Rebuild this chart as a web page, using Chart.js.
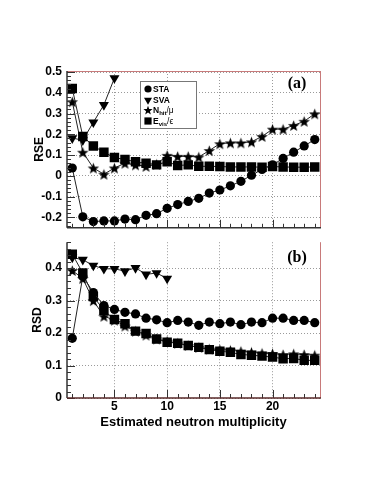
<!DOCTYPE html>
<html>
<head>
<meta charset="utf-8">
<script src="https://cdn.jsdelivr.net/npm/chart.js@4.4.0/dist/chart.umd.min.js"></script>
<style>
html, body { margin: 0; padding: 0; background: #fff; }
#wrap { position: relative; width: 382px; height: 494px; overflow: hidden; }
#c1 { position: absolute; left: 0; top: 0; }
#c2 { position: absolute; left: 0; top: 230px; }
#legend { position: absolute; left: 140px; top: 81px; width: 57px; height: 48px; box-sizing: border-box;
  border: 1px solid #777; background: #fff; font: bold 8.5px "Liberation Sans", Arial, sans-serif; color: #000; }
#legend .row { position: absolute; left: 0; height: 10px; width: 55px; }
#legend canvas { position: absolute; left: 1px; top: 0; }
#legend span { position: absolute; left: 12px; top: 0; line-height: 10px; white-space: nowrap; }
#legend sub { font-size: 6px; vertical-align: -2px; line-height: 0; }
#legend .thin { font-weight: normal; }
</style>
</head>
<body>
<div id="wrap">
  <canvas id="c1" width="382" height="240"></canvas>
  <canvas id="c2" width="382" height="264"></canvas>
  <div id="legend">
    <div class="row" style="top:2px"><canvas width="12" height="10" data-m="circle"></canvas><span>STA</span></div>
    <div class="row" style="top:13px"><canvas width="12" height="10" data-m="down"></canvas><span>SVA</span></div>
    <div class="row" style="top:23px"><canvas width="12" height="10" data-m="star"></canvas><span>N<sub>hit</sub><span class="thin" style="position:static">/μ</span></span></div>
    <div class="row" style="top:34px"><canvas width="12" height="10" data-m="square"></canvas><span>E<sub>vis</sub><span class="thin" style="position:static">/ϵ</span></span></div>
  </div>
</div>
<script>
// estimated neutron multiplicity
const multiplicity = [1, 2, 3, 4, 5, 6, 7, 8, 9, 10, 11, 12, 13, 14, 15, 16, 17, 18, 19, 20, 21, 22, 23, 24];
const xMajorTicks = [5, 10, 15, 20];

// (a) RSE
const rseSTA = [0.038, -0.197, -0.220, -0.217, -0.217, -0.208, -0.211, -0.190, -0.182, -0.156, -0.138, -0.123,
  -0.108, -0.083, -0.068, -0.048, -0.026, 0.003, 0.031, 0.053, 0.084, 0.114, 0.144, 0.175];
const rseSVA = [0.182, 0.172, 0.258, 0.342, 0.471];
const rseNhit = [0.357, 0.114, 0.038, 0.008, 0.038, 0.061, 0.053, 0.046, 0.056, 0.099, 0.094, 0.094,
  0.091, 0.122, 0.155, 0.159, 0.159, 0.164, 0.190, 0.225, 0.225, 0.243, 0.263, 0.299];
const rseEvis = [0.421, 0.190, 0.144, 0.114, 0.088, 0.079, 0.068, 0.061, 0.053, 0.068, 0.050, 0.053,
  0.046, 0.046, 0.045, 0.043, 0.043, 0.043, 0.042, 0.045, 0.043, 0.042, 0.042, 0.043];
const rseTicks = [-0.2, -0.1, 0, 0.1, 0.2, 0.3, 0.4, 0.5];

// (b) RSD
const rsdSTA = [0.184, 0.375, 0.325, 0.285, 0.273, 0.264, 0.259, 0.246, 0.241, 0.232, 0.239, 0.234,
  0.224, 0.234, 0.229, 0.234, 0.226, 0.234, 0.232, 0.246, 0.246, 0.239, 0.239, 0.232];
const rsdSVA = [0.433, 0.426, 0.408, 0.398, 0.398, 0.391, 0.401, 0.381, 0.385, 0.368];
const rsdNhit = [0.393, 0.368, 0.300, 0.252, 0.240, 0.222, 0.206, 0.194, 0.182, 0.175, 0.169, 0.162,
  0.156, 0.151, 0.149, 0.147, 0.144, 0.141, 0.138, 0.137, 0.134, 0.136, 0.134, 0.132];
const rsdEvis = [0.443, 0.385, 0.313, 0.270, 0.242, 0.229, 0.206, 0.199, 0.182, 0.172, 0.169, 0.162,
  0.156, 0.149, 0.144, 0.141, 0.134, 0.132, 0.129, 0.126, 0.121, 0.122, 0.116, 0.116];
const rsdTicks = [0, 0.1, 0.2, 0.3, 0.4];

// filled star marker (Chart.js 'star' is not filled)
function drawMarker(g, m, x, y, s) {
  g.fillStyle = '#000';
  g.beginPath();
  if (m === 'circle') {
    g.arc(x, y, 4.5 * s, 0, Math.PI * 2);
  } else if (m === 'down') {
    const r = 5.8 * s;
    g.moveTo(x - r * 0.866, y - r * 0.5);
    g.lineTo(x + r * 0.866, y - r * 0.5);
    g.lineTo(x, y + r);
  } else if (m === 'square') {
    g.rect(x - 4.5 * s, y - 4.5 * s, 9 * s, 9 * s);
  } else {
    const R = 6 * s, r = R * 0.42;
    for (let i = 0; i < 10; i++) {
      const ang = -Math.PI / 2 + i * Math.PI / 5;
      const rad = i % 2 ? r : R;
      g.lineTo(x + rad * Math.cos(ang), y + 0.7 * s + rad * Math.sin(ang));
    }
  }
  g.closePath();
  g.fill();
}

const starImg = document.createElement('canvas');
starImg.width = 13; starImg.height = 13;
drawMarker(starImg.getContext('2d'), 'star', 6.5, 6.5, 1);

document.querySelectorAll('#legend canvas').forEach(function (c) {
  drawMarker(c.getContext('2d'), c.dataset.m, 6, 5, 0.8);
});

function pts(ys) {
  return ys.map(function (v, i) { return { x: multiplicity[i], y: v }; });
}

function makeSets(sta, sva, nhit, evis) {
  const line = { borderColor: '#222', borderWidth: 1, backgroundColor: '#000', pointBorderWidth: 0, tension: 0 };
  return [
    Object.assign({ label: 'STA', data: pts(sta), pointStyle: 'circle', pointRadius: 4.6, order: 1 }, line),
    Object.assign({ label: 'SVA', data: pts(sva), pointStyle: 'triangle', rotation: 180, pointRadius: 5.8, order: 4 }, line),
    Object.assign({ label: 'Nhit/mu', data: pts(nhit), pointStyle: starImg, order: 3 }, line),
    Object.assign({ label: 'Evis/eps', data: pts(evis), pointStyle: 'rect', pointRadius: 6.7, order: 2 }, line)
  ];
}

// frame, inward ticks, titles
function framePlugin(cfg) {
  return {
    id: 'frame',
    afterDraw: function (chart) {
      const ctx = chart.ctx, a = chart.chartArea, x = chart.scales.x, y = chart.scales.y;
      ctx.save();
      ctx.strokeStyle = '#333';
      ctx.lineWidth = 1;
      ctx.beginPath();
      for (let v = 1; v <= 24; v++) {
        const px = Math.round(x.getPixelForValue(v)) + 0.5;
        const len = v % 5 === 0 ? 8 : 4;
        ctx.moveTo(px, a.bottom);
        ctx.lineTo(px, a.bottom - len);
      }
      const k0 = Math.ceil(y.min / 0.02 - 1e-6), k1 = Math.floor(y.max / 0.02 + 1e-6);
      for (let k = k0; k <= k1; k++) {
        const py = Math.round(y.getPixelForValue(k * 0.02)) + 0.5;
        const len = k % 5 === 0 ? 8 : 4;
        ctx.moveTo(a.left, py);
        ctx.lineTo(a.left + len, py);
      }
      ctx.stroke();

      // frame lines
      ctx.lineWidth = 1;
      ctx.strokeStyle = '#c87a7a';
      ctx.beginPath();
      ctx.moveTo(a.right + 0.5, a.top);
      ctx.lineTo(a.right + 0.5, a.bottom);
      if (cfg.top) { ctx.moveTo(a.left, a.top + 0.5); ctx.lineTo(a.right, a.top + 0.5); }
      ctx.stroke();
      ctx.strokeStyle = '#333';
      ctx.lineWidth = 1.5;
      ctx.beginPath();
      ctx.moveTo(a.left, a.top);
      ctx.lineTo(a.left, a.bottom);
      ctx.stroke();
      ctx.strokeStyle = cfg.bottomColor;
      ctx.lineWidth = 1.5;
      ctx.beginPath();
      ctx.moveTo(a.left, a.bottom);
      ctx.lineTo(a.right + 1, a.bottom);
      ctx.stroke();

      // axis title
      ctx.fillStyle = '#000';
      ctx.font = 'bold 12px "Liberation Sans", Arial, sans-serif';
      ctx.textAlign = 'center';
      ctx.textBaseline = 'middle';
      ctx.save();
      ctx.translate(cfg.titleX, (a.top + a.bottom) / 2);
      ctx.rotate(-Math.PI / 2);
      ctx.fillText(cfg.yTitle, 0, 0);
      ctx.restore();

      // panel tag
      ctx.font = 'bold 16px "Liberation Serif", "Times New Roman", serif';
      ctx.fillText(cfg.tag, 297, a.top + cfg.tagDy);

      if (cfg.xTitle) {
        ctx.font = 'bold 13px "Liberation Sans", Arial, sans-serif';
        ctx.fillText(cfg.xTitle, (a.left + a.right) / 2, a.bottom + 24);
      }
      ctx.restore();
    }
  };
}

function makeOptions(yMin, yMax, yTicks, padTop, padBottom, xHeight, showX) {
  const font = { family: '"Liberation Sans", Arial, sans-serif', size: 12, weight: 'bold' };
  return {
    responsive: false,
    animation: false,
    events: [],
    layout: { padding: { left: 0, top: padTop, right: 62, bottom: padBottom } },
    plugins: { legend: { display: false }, tooltip: { enabled: false } },
    scales: {
      x: {
        type: 'linear', min: 0.5, max: 24.5,
        afterBuildTicks: function (s) { s.ticks = xMajorTicks.map(function (v) { return { value: v }; }); },
        afterFit: function (s) { s.height = xHeight; },
        ticks: { display: showX, color: '#000', font: font, padding: 1, maxRotation: 0 },
        grid: { color: '#9a9a9a', lineWidth: 1, drawTicks: false },
        border: { display: false, dash: [1, 2] }
      },
      y: {
        min: yMin, max: yMax,
        afterBuildTicks: function (s) { s.ticks = yTicks.map(function (v) { return { value: v }; }); },
        afterFit: function (s) { s.width = 67; },
        ticks: {
          color: '#000', font: font, padding: 5,
          callback: function (v) { return v === 0 ? '0' : (Math.round(v * 10) / 10).toString(); }
        },
        grid: { color: '#9a9a9a', lineWidth: 1, drawTicks: false },
        border: { display: false, dash: [1, 2] }
      }
    }
  };
}

new Chart(document.getElementById('c1'), {
  type: 'line',
  data: { datasets: makeSets(rseSTA, rseSVA, rseNhit, rseEvis) },
  options: makeOptions(-0.25, 0.505, rseTicks, 71, 3, 0, false),
  plugins: [framePlugin({ top: true, bottomColor: '#333', yTitle: 'RSE', titleX: 40, tag: '(a)', tagDy: 13 })]
});

new Chart(document.getElementById('c2'), {
  type: 'line',
  data: { datasets: makeSets(rsdSTA, rsdSVA, rsdNhit, rsdEvis) },
  options: makeOptions(0, 0.48, rsdTicks, 7, 0, 96, true),
  plugins: [framePlugin({ top: false, bottomColor: '#5a2a2a', yTitle: 'RSD', titleX: 38, tag: '(b)', tagDy: 16, xTitle: 'Estimated neutron multiplicity' })]
});
</script>
</body>
</html>
